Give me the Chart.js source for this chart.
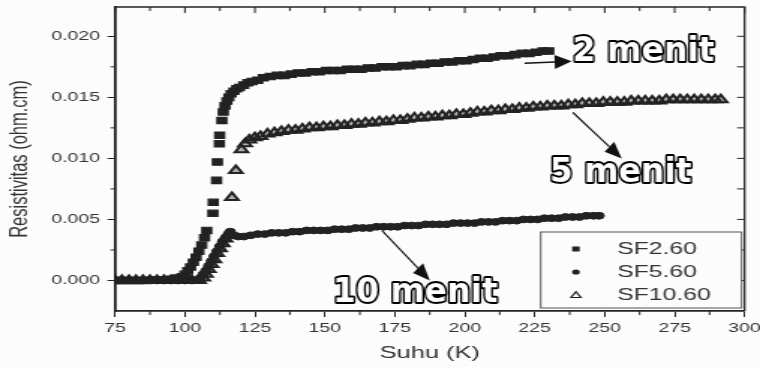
<!DOCTYPE html>
<html>
<head>
<meta charset="utf-8">
<script src="https://cdn.jsdelivr.net/npm/chart.js@4.4.1/dist/chart.umd.min.js"></script>
<style>
  html, body { margin: 0; padding: 0; background: #fcfcfc; overflow: hidden; }
  #chart { display: block; width: 760px !important; height: 367px !important; }
</style>
</head>
<body>
<!-- the scan is stretched sideways, so the canvas is drawn narrow and widened by css -->
<canvas id="chart" width="507" height="367" style="width:760px;height:367px"></canvas>
<script>
// ---- data ----
var xTicks = [75, 100, 125, 150, 175, 200, 225, 250, 275, 300];
var yTicks = [0, 0.005, 0.010, 0.015, 0.020];

// SF2.60 (squares)
var tSF2 = [75, 77.5, 80, 82.5, 85, 87.5, 90, 92.5, 95, 97.5,
  99, 100, 101, 102, 103, 104, 105, 106, 107, 107.8, 110, 110.1, 111.3, 111.6, 112.3, 112.4, 113.2,
  113.7, 114.3, 115, 115.7, 116.5, 117.5, 118.5, 119.5, 121, 122.5, 124, 126, 128, 130.5, 133, 135.5,
  138, 140.5, 143, 145.5, 148, 150.5, 153, 155.5, 158, 160.5, 163, 165.5, 168, 170.5, 173, 175.5,
  178, 180.5, 183, 185.5, 188, 190.5, 193, 195.5, 198, 200.5, 203, 205.5, 208, 210.5, 213, 215.5,
  218, 220.5, 223, 225.5, 228, 230];
var rSF2 = [0, 0, 0, 0, 0, 0.00002, 0.00004, 0.00006, 0.0001, 0.0002,
  0.0003, 0.0005, 0.0008, 0.0011, 0.0015, 0.0019, 0.0024, 0.0029, 0.0035, 0.0041, 0.0055, 0.0064, 0.0082, 0.0097, 0.0112, 0.0119, 0.0131,
  0.0138, 0.0143, 0.0147, 0.0150, 0.0153, 0.0155, 0.0157, 0.0158, 0.0160, 0.0162, 0.0163, 0.0164, 0.0166, 0.0167, 0.0168, 0.0168,
  0.0169, 0.0170, 0.0170, 0.0171, 0.0171, 0.0172, 0.0172, 0.0172, 0.0173, 0.0173, 0.0173, 0.0174, 0.0174, 0.0175, 0.0175, 0.0175,
  0.0176, 0.0176, 0.0177, 0.0177, 0.0178, 0.0178, 0.0179, 0.0179, 0.0180, 0.0180, 0.0181, 0.0182, 0.0182, 0.0183, 0.0184, 0.0184,
  0.0185, 0.0186, 0.0186, 0.0187, 0.0188, 0.0188];

// SF5.60 (circles)
var tSF5 = [75, 77.5, 80, 82.5, 85, 87.5, 90, 92.5, 95, 97.5, 100, 102.5, 105,
  105.5, 106.5, 107.5, 108.5, 109.5, 110.5, 111.5, 112.5, 113.5, 114.5, 115.5, 116.2, 117.5, 119, 121,
  123.5, 126, 128.5, 131, 133.5, 136, 138.5, 141, 143.5, 146, 148.5, 151, 153.5, 156, 158.5, 161,
  163.5, 166, 168.5, 171, 173.5, 176, 178.5, 181, 183.5, 186, 188.5, 191, 193.5, 196, 198.5, 201,
  203.5, 206, 208.5, 211, 213.5, 216, 218.5, 221, 223.5, 226, 228.5, 231, 233.5, 236, 238.5, 241,
  243.5, 246, 248];
var rSF5 = [0, 0, 0, 0, 0, 0, 0, 0, 0, 0, 0, 0, 0.00005,
  0.0002, 0.0005, 0.0008, 0.0012, 0.0016, 0.0020, 0.0024, 0.0028, 0.0032, 0.0035, 0.0038, 0.0040, 0.0037, 0.0036, 0.0036,
  0.0037, 0.0038, 0.0038, 0.0039, 0.0039, 0.0039, 0.0040, 0.0040, 0.0041, 0.0041, 0.0041, 0.0041, 0.0042, 0.0042, 0.0042, 0.0043,
  0.0043, 0.0043, 0.0044, 0.0044, 0.0044, 0.0044, 0.0045, 0.0045, 0.0045, 0.0046, 0.0046, 0.0046, 0.0046, 0.0047, 0.0047, 0.0047,
  0.0047, 0.0048, 0.0048, 0.0048, 0.0049, 0.0049, 0.0049, 0.0050, 0.0050, 0.0050, 0.0051, 0.0051, 0.0051, 0.0052, 0.0052, 0.0052,
  0.0053, 0.0053, 0.0053];

// SF10.60 (triangles)
var tSF10 = [75, 77.5, 80, 82.5, 85, 87.5, 90, 92.5, 95, 97.5, 100, 102.5, 105,
  106.5, 107.5, 108.5, 109.5, 110.5, 111.5, 112.5, 113.5, 114.5, 115.5, 116.8, 118.2, 120.2, 121.5, 123,
  125, 127, 129.5, 132, 134.5, 137, 139.5, 142, 144.5, 147, 149.5, 152, 154.5, 157, 159.5, 162,
  164.5, 167, 169.5, 172, 174.5, 177, 179.5, 182, 184.5, 187, 189.5, 192, 194.5, 197, 199.5, 202,
  204.5, 207, 209.5, 212, 214.5, 217, 219.5, 222, 224.5, 227, 229.5, 232, 234.5, 237, 239.5, 242,
  244.5, 247, 249.5, 252, 254.5, 257, 259.5, 262, 264.5, 267, 269.5, 272, 274.5, 277, 279.5, 282,
  284.5, 287, 289.5, 291.5];
var rSF10 = [0, 0, 0, 0, 0, 0, 0, 0, 0, 0, 0, 0, 0,
  0.0002, 0.0005, 0.0009, 0.0013, 0.0017, 0.0022, 0.0026, 0.0030, 0.0034, 0.0037, 0.0068, 0.0090, 0.0107, 0.0112, 0.0115,
  0.0117, 0.0118, 0.0120, 0.0121, 0.0122, 0.0123, 0.0123, 0.0124, 0.0125, 0.0125, 0.0126, 0.0126, 0.0127, 0.0127, 0.0128, 0.0128,
  0.0129, 0.0129, 0.0130, 0.0130, 0.0131, 0.0131, 0.0132, 0.0133, 0.0133, 0.0134, 0.0134, 0.0135, 0.0135, 0.0136, 0.0136, 0.0137,
  0.0138, 0.0138, 0.0139, 0.0139, 0.0140, 0.0140, 0.0141, 0.0141, 0.0142, 0.0142, 0.0143, 0.0143, 0.0143, 0.0144, 0.0144, 0.0145,
  0.0145, 0.0145, 0.0146, 0.0146, 0.0146, 0.0146, 0.0147, 0.0147, 0.0147, 0.0147, 0.0147, 0.0148, 0.0148, 0.0148, 0.0148, 0.0148,
  0.0148, 0.0148, 0.0148, 0.0148];

var seriesNames = ['SF2.60', 'SF5.60', 'SF10.60'];

// callouts, in data units: text anchor and arrow tail -> tip
var callouts = [
  { text: '2 menit',  tx: 238.6, ty: 0.01800, ax: 221.4, ay: 0.01779, bx: 238.2, by: 0.01795 },
  { text: '5 menit',  tx: 230.4, ty: 0.00805, ax: 238.6, ay: 0.01377, bx: 256.1, by: 0.0100 },
  { text: '10 menit', tx: 152.9, ty: -0.00180, ax: 170.4, ay: 0.0041, bx: 187.5, by: 0.0000 }
];

var SX = 1.5;      // sideways stretch of the page
var INK = '#222';

function pts(t, r) {
  return t.map(function (v, i) { return { x: v, y: r[i] }; });
}

Chart.defaults.font.family = "'Liberation Sans', Arial, sans-serif";
Chart.defaults.color = '#333';

// frame on top/right, inward ticks and minor ticks
var framePlugin = {
  id: 'frame',
  afterDraw: function (chart) {
    var ctx = chart.ctx, a = chart.chartArea, x = chart.scales.x, y = chart.scales.y;
    ctx.save();
    ctx.strokeStyle = INK;
    ctx.lineWidth = 1.3;
    ctx.beginPath();
    ctx.moveTo(a.left, a.top); ctx.lineTo(a.right, a.top); ctx.lineTo(a.right, a.bottom);
    ctx.stroke();
    ctx.lineWidth = 1;
    ctx.beginPath();
    x.ticks.forEach(function (t, i) {
      var px = x.getPixelForValue(t.value);
      ctx.moveTo(px, a.top); ctx.lineTo(px, a.top + 6);
      if (i < x.ticks.length - 1) {
        var mx = x.getPixelForValue((t.value + x.ticks[i + 1].value) / 2);
        ctx.moveTo(mx, a.top); ctx.lineTo(mx, a.top + 4);
        ctx.moveTo(mx, a.bottom); ctx.lineTo(mx, a.bottom + 4);
      }
    });
    y.ticks.forEach(function (t, i) {
      var py = y.getPixelForValue(t.value);
      ctx.moveTo(a.right, py); ctx.lineTo(a.right - 5, py);
      var mv = i < y.ticks.length - 1 ? (t.value + y.ticks[i + 1].value) / 2 : t.value + 0.0025;
      if (mv <= y.max) {
        var my = y.getPixelForValue(mv);
        ctx.moveTo(a.right, my); ctx.lineTo(a.right - 5, my);
        ctx.moveTo(a.left, my); ctx.lineTo(a.left - 3, my);
      }
    });
    ctx.stroke();
    ctx.restore();
  }
};

// legend box inside the plot, bottom right
var legendPlugin = {
  id: 'boxLegend',
  afterDraw: function (chart) {
    var ctx = chart.ctx, a = chart.chartArea;
    var w = 134, h = 76;
    var left = a.right - 2 - w, top = a.bottom - 3 - h;
    ctx.save();
    ctx.fillStyle = '#fcfcfc';
    ctx.fillRect(left, top, w, h);
    ctx.strokeStyle = '#555';
    ctx.lineWidth = 1;
    ctx.strokeRect(left, top, w, h);
    ctx.font = "16.5px 'Liberation Sans', Arial, sans-serif";
    ctx.textBaseline = 'middle';
    chart.data.datasets.forEach(function (ds, i) {
      var cy = top + 17 + i * 23, cx = left + 23.5;
      ctx.fillStyle = INK;
      ctx.strokeStyle = INK;
      ctx.lineWidth = 1.2;
      if (ds.pointStyle === 'rect') {
        ctx.fillRect(cx - 2.5, cy - 2.5, 5, 5);
      } else if (ds.pointStyle === 'circle') {
        ctx.beginPath(); ctx.arc(cx, cy, 2.6, 0, Math.PI * 2); ctx.fill();
      } else {
        ctx.beginPath();
        ctx.moveTo(cx, cy - 3.2); ctx.lineTo(cx + 3.3, cy + 2.5); ctx.lineTo(cx - 3.3, cy + 2.5);
        ctx.closePath(); ctx.stroke();
      }
      ctx.fillStyle = '#333';
      ctx.fillText(ds.label, left + 51, cy + 0.5);
    });
    ctx.restore();
  }
};

// outlined "menit" callouts with arrows, drawn unstretched
var calloutPlugin = {
  id: 'callouts',
  afterDraw: function (chart) {
    var ctx = chart.ctx, x = chart.scales.x, y = chart.scales.y;
    ctx.save();
    ctx.scale(1 / SX, 1);
    callouts.forEach(function (c) {
      var ax = x.getPixelForValue(c.ax) * SX, ay = y.getPixelForValue(c.ay);
      var bx = x.getPixelForValue(c.bx) * SX, by = y.getPixelForValue(c.by);
      var ang = Math.atan2(by - ay, bx - ax), len = 17, half = 7;
      var hx = bx - len * Math.cos(ang), hy = by - len * Math.sin(ang);
      ctx.strokeStyle = '#111';
      ctx.fillStyle = '#111';
      ctx.lineWidth = 1.5;
      ctx.beginPath(); ctx.moveTo(ax, ay); ctx.lineTo(hx, hy); ctx.stroke();
      ctx.beginPath();
      ctx.moveTo(bx, by);
      ctx.lineTo(hx + half * Math.sin(ang), hy - half * Math.cos(ang));
      ctx.lineTo(hx - half * Math.sin(ang), hy + half * Math.cos(ang));
      ctx.closePath(); ctx.fill();

      var tx = x.getPixelForValue(c.tx) * SX, ty = y.getPixelForValue(c.ty);
      ctx.font = "bold 33px 'DejaVu Sans', sans-serif";
      ctx.textBaseline = 'alphabetic';
      ctx.lineJoin = 'round';
      ctx.lineWidth = 4;
      ctx.strokeStyle = '#000';
      ctx.strokeText(c.text, tx, ty);
      ctx.fillStyle = '#fff';
      ctx.fillText(c.text, tx, ty);
    });
    ctx.restore();
  }
};

var ctx = document.getElementById('chart');
var chart = new Chart(ctx, {
  type: 'scatter',
  data: {
    datasets: [{
      label: seriesNames[0],
      data: pts(tSF2, rSF2),
      pointStyle: 'rect',
      pointRadius: 4.5,
      borderWidth: 1.2,
      backgroundColor: INK,
      borderColor: INK
    }, {
      label: seriesNames[1],
      data: pts(tSF5, rSF5),
      pointStyle: 'circle',
      pointRadius: 3.4,
      borderWidth: 1,
      backgroundColor: INK,
      borderColor: INK
    }, {
      label: seriesNames[2],
      data: pts(tSF10, rSF10),
      pointStyle: 'triangle',
      pointRadius: 5,
      borderWidth: 2,
      backgroundColor: 'rgba(34,34,34,0.35)',
      borderColor: INK
    }]
  },
  options: {
    responsive: false,
    animation: false,
    devicePixelRatio: 1,
    layout: { padding: { top: 7, right: 10.3, left: 0, bottom: 0 } },
    plugins: {
      legend: { display: false },
      tooltip: { enabled: false }
    },
    scales: {
      x: {
        type: 'linear',
        min: 75,
        max: 300,
        afterBuildTicks: function (s) { s.ticks = xTicks.map(function (v) { return { value: v }; }); },
        afterFit: function (s) { s.height = 56; s.paddingLeft = 0; s.paddingRight = 0; },
        ticks: { font: { size: 13 }, padding: 4, color: '#333', maxRotation: 0 },
        grid: { drawOnChartArea: false, drawTicks: true, tickLength: 6, color: INK, tickWidth: 1 },
        border: { display: true, color: INK, width: 1.8 },
        title: { display: true, text: 'Suhu (K)', font: { size: 17 }, color: '#333', padding: { top: 0, bottom: 3 } }
      },
      y: {
        type: 'linear',
        min: -0.0025,
        max: 0.0224,
        afterBuildTicks: function (s) { s.ticks = yTicks.map(function (v) { return { value: v }; }); },
        afterFit: function (s) { s.width = 76.7; s.paddingTop = 0; s.paddingBottom = 0; },
        ticks: {
          font: { size: 13 }, padding: 5, color: '#333',
          callback: function (v) { return v.toFixed(3); }
        },
        grid: { drawOnChartArea: false, drawTicks: true, tickLength: 5, color: INK, tickWidth: 1 },
        border: { display: true, color: INK, width: 1.8 },
        title: { display: true, text: 'Resistivitas (ohm.cm)', font: { size: 16.5 }, color: '#333', padding: { top: 4, bottom: 0 } }
      }
    }
  },
  plugins: [framePlugin, legendPlugin, calloutPlugin]
});
</script>
</body>
</html>
